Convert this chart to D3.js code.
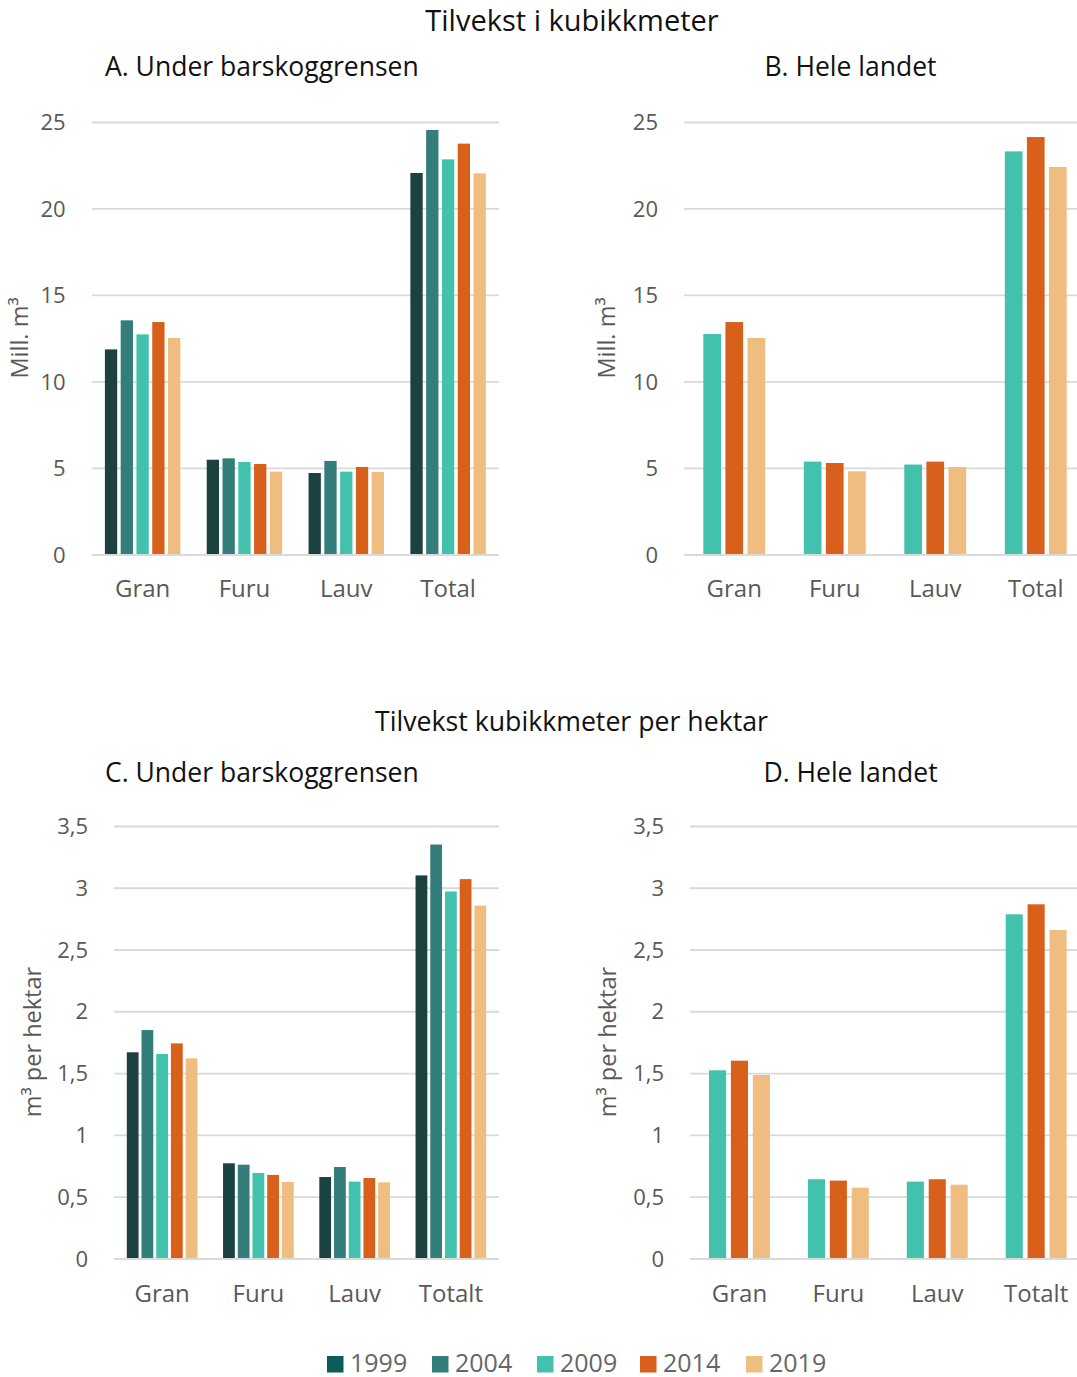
<!DOCTYPE html>
<html><head><meta charset="utf-8">
<script src="https://cdn.jsdelivr.net/npm/d3@7"></script>
<style>body{margin:0;background:#fff;overflow:hidden;} text{font-family:"Open Sans",sans-serif;}</style>
</head><body>
<svg id="c" width="1077" height="1377"></svg>
<script>
const categoriesTop = ["Gran","Furu","Lauv","Total"];
const categoriesBottom = ["Gran","Furu","Lauv","Totalt"];
const yearsAll = ["1999","2004","2009","2014","2019"];
const yearsNat = ["2009","2014","2019"];
const colors = {"1999":"#1b4141","2004":"#337d7b","2009":"#42c2ad","2014":"#d9601a","2019":"#efbd7f"};
const legendColors = {"1999":"#0b5d57","2004":"#337d7b","2009":"#42c2ad","2014":"#d9601a","2019":"#efbd7f"};

// Panel A: Mill. m3, under barskoggrensen
const valsA_1999 = [11.85, 5.47, 4.70, 22.05];
const valsA_2004 = [13.53, 5.55, 5.40, 24.54];
const valsA_2009 = [12.72, 5.34, 4.78, 22.84];
const valsA_2014 = [13.43, 5.22, 5.05, 23.75];
const valsA_2019 = [12.51, 4.78, 4.76, 22.03];
// Panel B: Mill. m3, hele landet
const valsB_2009 = [12.74, 5.36, 5.19, 23.30];
const valsB_2014 = [13.43, 5.28, 5.36, 24.13];
const valsB_2019 = [12.51, 4.80, 5.05, 22.40];
// Panel C: m3 per hektar, under barskoggrensen
const valsC_1999 = [1.668, 0.769, 0.658, 3.10];
const valsC_2004 = [1.848, 0.758, 0.739, 3.35];
const valsC_2009 = [1.654, 0.691, 0.621, 2.97];
const valsC_2014 = [1.740, 0.675, 0.650, 3.07];
const valsC_2019 = [1.619, 0.618, 0.615, 2.855];
// Panel D: m3 per hektar, hele landet
const valsD_2009 = [1.522, 0.640, 0.621, 2.785];
const valsD_2014 = [1.600, 0.629, 0.640, 2.866];
const valsD_2019 = [1.484, 0.572, 0.596, 2.658];

const ticksTop = [0,5,10,15,20,25];
const ticksBottom = [0,0.5,1,1.5,2,2.5,3,3.5];

const svg = d3.select("#c");
const fmt = v => String(v).replace(".", ",");

function panel(cfg){
  const g = svg.append("g");
  const x = d3.scaleBand().domain(cfg.cats).range([cfg.x0, cfg.x1]).paddingInner(0).paddingOuter(0);
  const xi = d3.scaleBand().domain(cfg.years).range([cfg.pad, x.bandwidth()-cfg.pad]).paddingInner(cfg.inner).paddingOuter(0);
  const y = d3.scaleLinear().domain([0, cfg.ticks[cfg.ticks.length-1]]).range([cfg.yb, cfg.yt]);
  const gridW = Math.min(cfg.x1, 1077) - cfg.x0;
  const ax = d3.axisLeft(y).tickValues(cfg.ticks).tickSize(-gridW).tickFormat(fmt).tickPadding(26);
  const axg = g.append("g").attr("transform",`translate(${cfg.x0},0)`).call(ax);
  axg.select(".domain").remove();
  axg.selectAll(".tick line").attr("stroke","#d9d9d9").attr("stroke-width",1.8);
  axg.selectAll(".tick text").attr("fill","#595959").attr("font-size",22).attr("font-family","Open Sans").attr("dy","0.35em");
  cfg.years.forEach((yr,i)=>{
    const vals = cfg.series[i];
    g.append("g").selectAll("rect").data(cfg.cats).join("rect")
      .attr("x", c => x(c) + xi(yr))
      .attr("width", xi.bandwidth())
      .attr("y", (c,j) => y(vals[j]))
      .attr("height", (c,j) => y(0) - y(vals[j]))
      .attr("fill", colors[yr]);
  });
  g.append("line").attr("x1",cfg.x0).attr("x2",cfg.x0+gridW).attr("y1",y(0)+0.5).attr("y2",y(0)+0.5).attr("stroke","#d9d9d9").attr("stroke-width",1.8);
  const xa = d3.axisBottom(x).tickSize(0).tickPadding(0);
  const xg = g.append("g").attr("transform",`translate(0,${cfg.yb})`).call(xa);
  xg.select(".domain").remove();
  xg.selectAll(".tick text").attr("fill","#595959").attr("font-size",24).attr("font-family","Open Sans").attr("dy",0).attr("y",cfg.catY);
  g.append("text").attr("x",cfg.subX).attr("y",cfg.subY).attr("text-anchor",cfg.subAnchor).attr("font-size",26.5).attr("fill","#111").text(cfg.sub);
  g.append("text").attr("transform",`translate(${cfg.ytX},${cfg.ytY}) rotate(-90)`).attr("text-anchor","middle").attr("font-size",23.5).attr("fill","#595959").text(cfg.ytitle);
}

panel({cats:categoriesTop, years:yearsAll, series:[valsA_1999,valsA_2004,valsA_2009,valsA_2014,valsA_2019],
  x0:91.7, x1:499, yt:122, yb:554.3, ticks:ticksTop, pad:13.2, inner:0.22, catY:43,
  sub:"A. Under barskoggrensen", subX:105, subY:76, subAnchor:"start", ytitle:"Mill. m³", ytX:28, ytY:338});
panel({cats:categoriesTop, years:yearsNat, series:[valsB_2009,valsB_2014,valsB_2019],
  x0:684, x1:1086, yt:122, yb:554.3, ticks:ticksTop, pad:19.3, inner:0.2, catY:43,
  sub:"B. Hele landet", subX:850.5, subY:76, subAnchor:"middle", ytitle:"Mill. m³", ytX:615, ytY:338});
panel({cats:categoriesBottom, years:yearsAll, series:[valsC_1999,valsC_2004,valsC_2009,valsC_2014,valsC_2019],
  x0:114, x1:499, yt:826, yb:1258.3, ticks:ticksBottom, pad:12.8, inner:0.2, catY:44,
  sub:"C. Under barskoggrensen", subX:105, subY:782, subAnchor:"start", ytitle:"m³ per hektar", ytX:41, ytY:1042});
panel({cats:categoriesBottom, years:yearsNat, series:[valsD_2009,valsD_2014,valsD_2019],
  x0:690, x1:1085.6, yt:826, yb:1258.3, ticks:ticksBottom, pad:19, inner:0.22, catY:44,
  sub:"D. Hele landet", subX:850.5, subY:782, subAnchor:"middle", ytitle:"m³ per hektar", ytX:616, ytY:1042});

svg.append("text").attr("x",572).attr("y",30.5).attr("text-anchor","middle").attr("font-size",29).attr("fill","#111").text("Tilvekst i kubikkmeter");
svg.append("text").attr("x",571.5).attr("y",730.5).attr("text-anchor","middle").attr("font-size",26.7).attr("fill","#111").text("Tilvekst kubikkmeter per hektar");

const legX = [327, 432, 537, 640, 746];
const lg = svg.append("g");
yearsAll.forEach((yr,i)=>{
  lg.append("rect").attr("x",legX[i]).attr("y",1356).attr("width",16.5).attr("height",16.5).attr("fill",legendColors[yr]);
  lg.append("text").attr("x",legX[i]+23).attr("y",1372).attr("font-size",25).attr("fill","#666").text(yr);
});
</script>
</body></html>
